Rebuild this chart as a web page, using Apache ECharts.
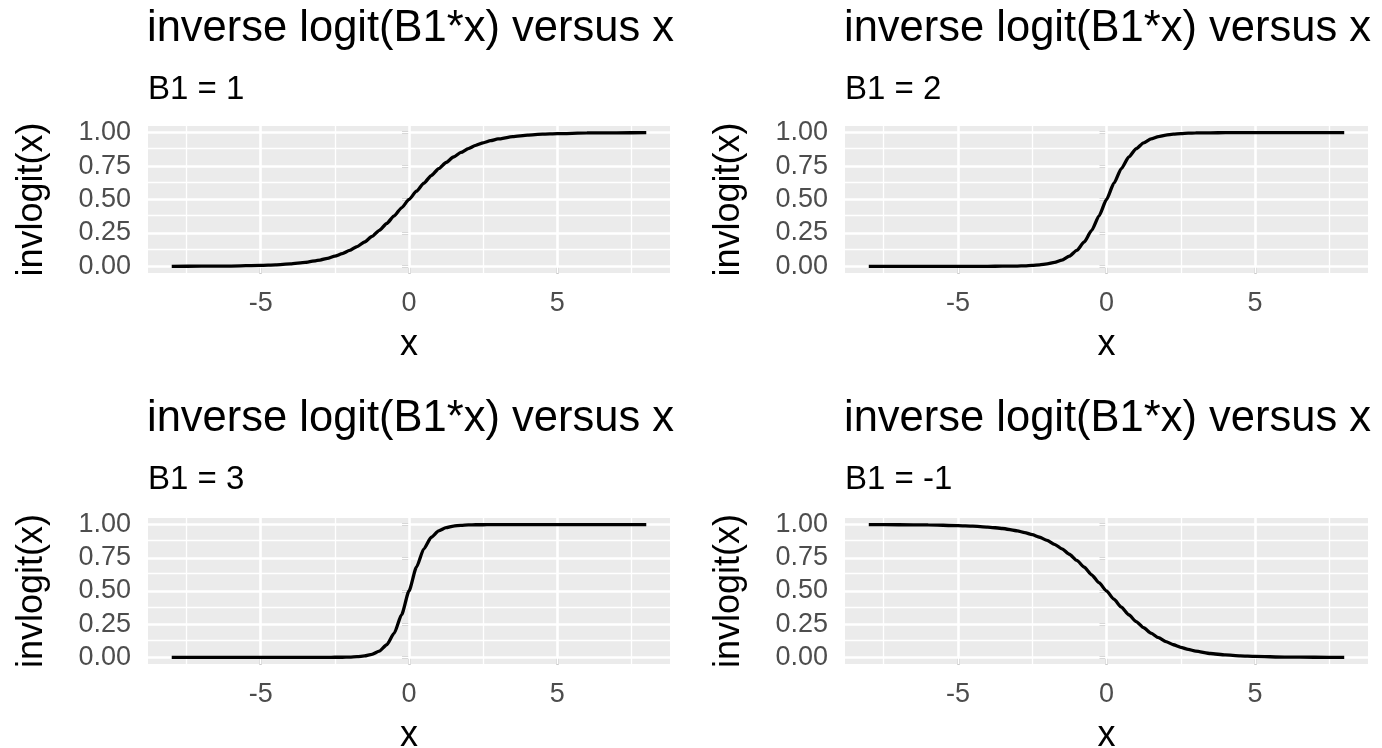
<!DOCTYPE html>
<html>
<head>
<meta charset="utf-8">
<title>inverse logit(B1*x) versus x</title>
<script src="https://cdn.jsdelivr.net/npm/echarts@6/dist/echarts.min.js"></script>
<style>
  html, body { margin: 0; padding: 0; background: #ffffff; }
  #chart { width: 1382px; height: 748px; }
</style>
</head>
<body>
<div id="chart"></div>
<script>
const xValues = [-8, -7, -6, -5, -4.5, -4, -3.5,
  -3, -2.75, -2.5, -2.25, -2, -1.75, -1.5, -1.25, -1, -0.75, -0.5, -0.25,
  0, 0.25, 0.5, 0.75, 1, 1.25, 1.5, 1.75, 2, 2.25, 2.5, 2.75, 3,
  3.5, 4, 4.5, 5, 6, 7, 8];

// invlogit(B1*x)
const curveB1is1 = [0.000, 0.001, 0.002, 0.007, 0.011, 0.018, 0.029,
  0.047, 0.060, 0.076, 0.095, 0.119, 0.148, 0.182, 0.223, 0.269, 0.321, 0.378, 0.438,
  0.500, 0.562, 0.622, 0.679, 0.731, 0.777, 0.818, 0.852, 0.881, 0.905, 0.924, 0.940, 0.953,
  0.971, 0.982, 0.989, 0.993, 0.998, 0.999, 1.000];
const curveB1is2 = [0.000, 0.000, 0.000, 0.000, 0.000, 0.000, 0.001,
  0.002, 0.004, 0.007, 0.011, 0.018, 0.029, 0.047, 0.076, 0.119, 0.182, 0.269, 0.378,
  0.500, 0.622, 0.731, 0.818, 0.881, 0.924, 0.953, 0.971, 0.982, 0.989, 0.993, 0.996, 0.998,
  0.999, 1.000, 1.000, 1.000, 1.000, 1.000, 1.000];
const curveB1is3 = [0.000, 0.000, 0.000, 0.000, 0.000, 0.000, 0.000,
  0.000, 0.000, 0.001, 0.001, 0.002, 0.005, 0.011, 0.023, 0.047, 0.095, 0.182, 0.321,
  0.500, 0.679, 0.818, 0.905, 0.953, 0.977, 0.989, 0.995, 0.998, 0.999, 0.999, 1.000, 1.000,
  1.000, 1.000, 1.000, 1.000, 1.000, 1.000, 1.000];
const curveB1isMinus1 = [1.000, 0.999, 0.998, 0.993, 0.989, 0.982, 0.971,
  0.953, 0.940, 0.924, 0.905, 0.881, 0.852, 0.818, 0.777, 0.731, 0.679, 0.622, 0.562,
  0.500, 0.438, 0.378, 0.321, 0.269, 0.223, 0.182, 0.148, 0.119, 0.095, 0.076, 0.060, 0.047,
  0.029, 0.018, 0.011, 0.007, 0.002, 0.001, 0.000];

const titleText = 'inverse logit(B1*x) versus x';
const subtitles = ['B1 = 1', 'B1 = 2', 'B1 = 3', 'B1 = -1'];
const curves = [curveB1is1, curveB1is2, curveB1is3, curveB1isMinus1];

const xTicks = [-5, 0, 5];
const xMinorTicks = [-7.5, -2.5, 2.5, 7.5];
const yTicks = [0, 0.25, 0.5, 0.75, 1];
const yMinorTicks = [0.125, 0.375, 0.625, 0.875];

const FONT = '"Liberation Sans", Arial, Helvetica, sans-serif';

// plot panels (2 x 2)
const panels = [
  { left: 148, top: 126, width: 522, height: 147 },
  { left: 845, top: 126, width: 523, height: 147 },
  { left: 148, top: 518, width: 522, height: 146 },
  { left: 845, top: 518, width: 523, height: 146 }
];

const chart = echarts.init(document.getElementById('chart'), null, { renderer: 'canvas' });

const titles = [];
const grids = [];
const xAxes = [];
const yAxes = [];
const series = [];

panels.forEach((p, i) => {
  const dy = i < 2 ? 0 : 390;
  titles.push({
    text: titleText, left: p.left - 1, top: 7 + dy, padding: 0,
    textStyle: { fontFamily: FONT, fontSize: 43.5, fontWeight: 'normal', color: '#000' }
  });
  titles.push({
    text: subtitles[i], left: p.left, top: 73 + dy, padding: 0,
    textStyle: { fontFamily: FONT, fontSize: 33, fontWeight: 'normal', color: '#000' }
  });
  grids.push({
    left: p.left, top: p.top, width: p.width, height: p.height,
    outerBoundsMode: 'none', containLabel: false,
    show: true, backgroundColor: '#EBEBEB', borderWidth: 0
  });
  xAxes.push({
    type: 'value', gridIndex: i, min: -8.8, max: 8.8,
    name: 'x', nameLocation: 'middle', nameGap: 54,
    nameTextStyle: { fontFamily: FONT, fontSize: 36, color: '#000' },
    axisLine: { show: false },
    axisTick: { show: true, customValues: xTicks, length: 7, lineStyle: { color: '#333333', width: 2.5 } },
    axisLabel: { customValues: xTicks, margin: 17, fontFamily: FONT, fontSize: 27, color: '#4D4D4D' },
    splitLine: { show: false }
  });
  yAxes.push({
    type: 'value', gridIndex: i, min: -0.05, max: 1.05,
    name: 'invlogit(x)', nameLocation: 'middle', nameGap: 98,
    nameTextStyle: { fontFamily: FONT, fontSize: 36, color: '#000' },
    axisLine: { show: false },
    axisTick: { show: true, customValues: yTicks, length: 7, lineStyle: { color: '#333333', width: 2.5 } },
    axisLabel: {
      customValues: yTicks, margin: 17, fontFamily: FONT, fontSize: 27, color: '#4D4D4D',
      formatter: v => v.toFixed(2)
    },
    splitLine: { show: false }
  });

  // panel grid lines, ggplot style
  const gridLines = [];
  xMinorTicks.forEach(v => gridLines.push({ xAxis: v, lineStyle: { width: 1.3 } }));
  yMinorTicks.forEach(v => gridLines.push({ yAxis: v, lineStyle: { width: 1.3 } }));
  xTicks.forEach(v => gridLines.push({ xAxis: v, lineStyle: { width: 2.6 } }));
  yTicks.forEach(v => gridLines.push({ yAxis: v, lineStyle: { width: 2.6 } }));
  series.push({
    type: 'line', xAxisIndex: i, yAxisIndex: i, data: [], z: 1, silent: true,
    markLine: {
      z: 1, silent: true, symbol: 'none', animation: false,
      label: { show: false },
      lineStyle: { color: '#FFFFFF', type: 'solid' },
      data: gridLines
    }
  });

  series.push({
    type: 'line', xAxisIndex: i, yAxisIndex: i, z: 10,
    data: xValues.map((x, k) => [x, curves[i][k]]),
    showSymbol: false, smooth: 0.2, smoothMonotone: 'x',
    lineStyle: { color: '#000000', width: 3.3 }
  });
});

chart.setOption({
  animation: false,
  backgroundColor: '#FFFFFF',
  title: titles,
  grid: grids,
  xAxis: xAxes,
  yAxis: yAxes,
  series: series
});
</script>
</body>
</html>
